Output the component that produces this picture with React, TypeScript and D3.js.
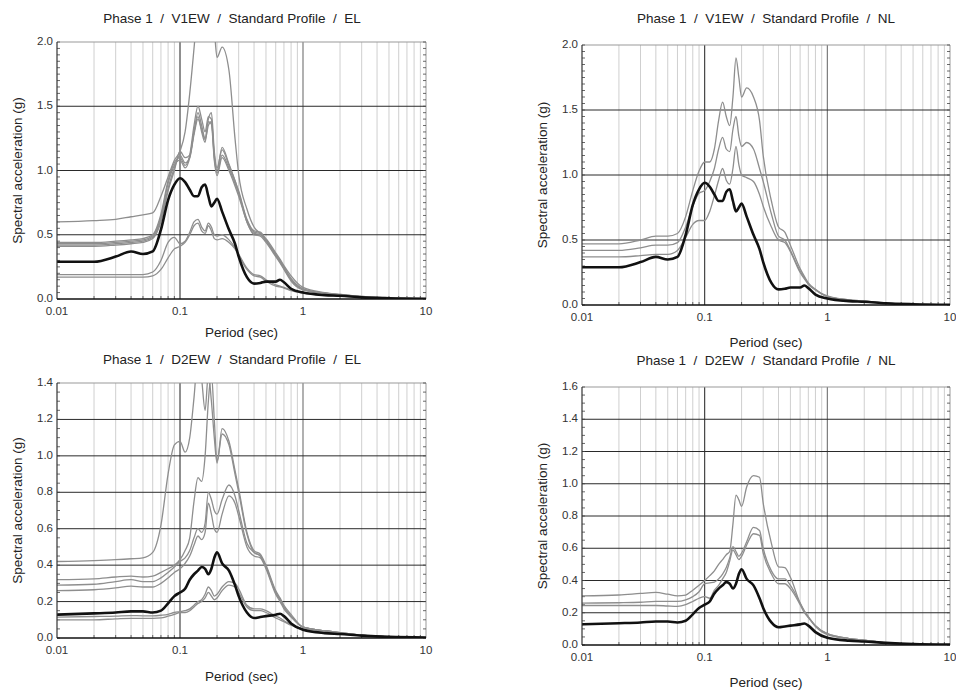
import React from 'react';
import * as d3 from 'd3';

// Periods (sec) at which the spectra are read
const PERIODS = [
  0.01, 0.02, 0.03, 0.04, 0.05, 0.06, 0.07, 0.08, 0.09,
  0.1, 0.11, 0.12, 0.13, 0.14, 0.15, 0.16, 0.17, 0.18, 0.19, 0.2,
  0.22, 0.25, 0.28, 0.3, 0.35, 0.4, 0.45, 0.5,
  0.6, 0.65, 0.7, 0.8, 1, 1.5, 2, 3, 5, 10,
];

// Recorded motions (black)
const V1EW_RECORD = [
  0.29, 0.29, 0.33, 0.37, 0.35, 0.37, 0.54, 0.77, 0.89,
  0.94, 0.91, 0.85, 0.80, 0.80, 0.87, 0.89, 0.80, 0.72, 0.75, 0.78,
  0.68, 0.54, 0.43, 0.33, 0.17, 0.12, 0.125, 0.135,
  0.135, 0.15, 0.13, 0.08, 0.05, 0.03, 0.025, 0.013, 0.006, 0.002,
];
const D2EW_RECORD = [
  0.128, 0.135, 0.14, 0.146, 0.146, 0.14, 0.15, 0.19, 0.23,
  0.25, 0.27, 0.32, 0.35, 0.37, 0.39, 0.38, 0.35, 0.38, 0.44, 0.47,
  0.41, 0.37, 0.29, 0.23, 0.14, 0.11, 0.115, 0.12,
  0.128, 0.133, 0.12, 0.08, 0.045, 0.027, 0.022, 0.013, 0.006, 0.003,
];

// V1EW / EL computed spectra (grey)
const V1EW_EL_1 = [
  0.60, 0.61, 0.62, 0.64, 0.655, 0.67, 0.80, 0.95, 1.08,
  1.15, 1.30, 1.60, 1.95, 2.30, 2.50, 2.50, 2.40, 2.30, 2.10, 1.88,
  1.96, 1.78, 1.25, 0.97, 0.70, 0.56, 0.51, 0.47,
  0.36, 0.31, 0.26, 0.18, 0.09, 0.05, 0.035, 0.02, 0.008, 0.003,
];
const V1EW_EL_2 = [
  0.44, 0.44, 0.45, 0.46, 0.47, 0.50, 0.66, 0.92, 1.06,
  1.10, 1.04, 1.12, 1.35, 1.50, 1.40, 1.30, 1.42, 1.40, 1.12, 1.00,
  1.18, 1.05, 0.92, 0.84, 0.62, 0.53, 0.52, 0.46,
  0.35, 0.30, 0.25, 0.16, 0.08, 0.045, 0.035, 0.02, 0.008, 0.003,
];
const V1EW_EL_3 = [
  0.43, 0.43, 0.44, 0.45, 0.46, 0.49, 0.64, 0.90, 1.04,
  1.08, 1.02, 1.10, 1.30, 1.45, 1.35, 1.25, 1.40, 1.45, 1.15, 1.02,
  1.16, 1.04, 0.92, 0.83, 0.61, 0.52, 0.51, 0.46,
  0.34, 0.29, 0.24, 0.15, 0.075, 0.045, 0.033, 0.019, 0.008, 0.003,
];
const V1EW_EL_4 = [
  0.42, 0.42, 0.43, 0.44, 0.45, 0.48, 0.62, 0.86, 1.02,
  1.12, 1.06, 1.10, 1.28, 1.40, 1.32, 1.24, 1.35, 1.38, 1.10, 0.98,
  1.12, 1.02, 0.90, 0.82, 0.60, 0.51, 0.50, 0.45,
  0.34, 0.29, 0.24, 0.15, 0.075, 0.044, 0.032, 0.018, 0.007, 0.003,
];
const V1EW_EL_5 = [
  0.41, 0.41, 0.42, 0.43, 0.44, 0.47, 0.60, 0.84, 1.00,
  1.15, 1.10, 1.12, 1.30, 1.42, 1.30, 1.22, 1.38, 1.36, 1.08, 0.96,
  1.10, 1.00, 0.88, 0.80, 0.60, 0.50, 0.49, 0.44,
  0.33, 0.28, 0.23, 0.14, 0.07, 0.043, 0.031, 0.018, 0.007, 0.003,
];
const V1EW_EL_6 = [
  0.19, 0.19, 0.19, 0.19, 0.19, 0.21, 0.30, 0.44, 0.48,
  0.43, 0.45, 0.52, 0.60, 0.62, 0.56, 0.53, 0.59, 0.56, 0.50, 0.49,
  0.50, 0.46, 0.40, 0.35, 0.24, 0.19, 0.18, 0.15,
  0.11, 0.10, 0.09, 0.07, 0.05, 0.03, 0.025, 0.015, 0.006, 0.002,
];
const V1EW_EL_7 = [
  0.17, 0.17, 0.17, 0.17, 0.17, 0.18, 0.23, 0.32, 0.39,
  0.41, 0.44, 0.50, 0.57, 0.59, 0.53, 0.51, 0.57, 0.53, 0.47, 0.46,
  0.47, 0.44, 0.39, 0.34, 0.23, 0.18, 0.17, 0.14,
  0.10, 0.095, 0.085, 0.065, 0.045, 0.028, 0.022, 0.013, 0.005, 0.002,
];

// V1EW / NL computed spectra (grey)
const V1EW_NL_1 = [
  0.47, 0.47, 0.50, 0.53, 0.53, 0.55, 0.68, 0.88, 1.03,
  1.10, 1.10, 1.20, 1.42, 1.56, 1.45, 1.38, 1.60, 1.90, 1.75, 1.60,
  1.67, 1.60, 1.42, 1.15, 0.80, 0.60, 0.56, 0.46,
  0.28, 0.22, 0.17, 0.12, 0.07, 0.04, 0.03, 0.015, 0.006, 0.002,
];
const V1EW_NL_2 = [
  0.42, 0.42, 0.44, 0.46, 0.46, 0.48, 0.60, 0.76, 0.86,
  0.88, 0.95, 1.05, 1.20, 1.29, 1.20, 1.18, 1.35, 1.45, 1.30, 1.22,
  1.25, 1.20, 1.05, 0.95, 0.70, 0.53, 0.50, 0.42,
  0.26, 0.21, 0.16, 0.12, 0.065, 0.04, 0.03, 0.015, 0.006, 0.002,
];
const V1EW_NL_3 = [
  0.37, 0.37, 0.38, 0.39, 0.39, 0.42, 0.52, 0.62, 0.65,
  0.65, 0.72, 0.84, 0.96, 1.05, 0.96, 0.93, 1.05, 1.22, 1.08, 1.00,
  0.98, 0.95, 0.85, 0.76, 0.60, 0.50, 0.48, 0.41,
  0.25, 0.20, 0.16, 0.115, 0.065, 0.04, 0.03, 0.015, 0.006, 0.002,
];

// D2EW / EL computed spectra (grey)
const D2EW_EL_1 = [
  0.42, 0.425, 0.43, 0.435, 0.44, 0.47, 0.62, 0.90, 1.06,
  1.08, 1.02, 1.10, 1.32, 1.55, 1.42, 1.25, 1.45, 1.30, 1.10, 0.96,
  1.15, 1.08, 0.92, 0.82, 0.58, 0.48, 0.46, 0.40,
  0.26, 0.22, 0.18, 0.13, 0.06, 0.04, 0.03, 0.015, 0.006, 0.002,
];
const D2EW_EL_2 = [
  0.32, 0.325, 0.335, 0.34, 0.335, 0.34, 0.36, 0.38, 0.40,
  0.43, 0.48, 0.55, 0.75, 0.88, 0.86, 1.00, 1.30, 1.45, 1.20, 0.97,
  1.12, 1.06, 0.90, 0.80, 0.57, 0.47, 0.45, 0.39,
  0.25, 0.21, 0.17, 0.12, 0.06, 0.04, 0.03, 0.015, 0.006, 0.002,
];
const D2EW_EL_3 = [
  0.29, 0.295, 0.31, 0.32, 0.31, 0.31, 0.33, 0.36, 0.39,
  0.42, 0.44, 0.48, 0.55, 0.60, 0.58, 0.63, 0.80, 0.76, 0.70, 0.68,
  0.76, 0.84, 0.78, 0.70, 0.52, 0.47, 0.45, 0.39,
  0.25, 0.21, 0.17, 0.12, 0.06, 0.04, 0.03, 0.015, 0.006, 0.002,
];
const D2EW_EL_4 = [
  0.26, 0.265, 0.275, 0.285, 0.28, 0.28, 0.30, 0.33, 0.36,
  0.38, 0.41, 0.45, 0.51, 0.56, 0.54, 0.58, 0.74, 0.68, 0.60, 0.58,
  0.68, 0.78, 0.74, 0.67, 0.50, 0.45, 0.44, 0.38,
  0.24, 0.20, 0.16, 0.115, 0.06, 0.04, 0.03, 0.015, 0.006, 0.002,
];
const D2EW_EL_5 = [
  0.115, 0.118, 0.12, 0.123, 0.122, 0.122, 0.125, 0.13, 0.14,
  0.145, 0.15, 0.16, 0.18, 0.20, 0.21, 0.24, 0.28, 0.26, 0.23, 0.24,
  0.28, 0.31, 0.30, 0.27, 0.18, 0.16, 0.16, 0.15,
  0.12, 0.11, 0.095, 0.075, 0.05, 0.03, 0.025, 0.014, 0.006, 0.002,
];
const D2EW_EL_6 = [
  0.10, 0.10, 0.105, 0.108, 0.108, 0.108, 0.11, 0.12, 0.13,
  0.14, 0.14, 0.15, 0.17, 0.19, 0.20, 0.22, 0.25, 0.23, 0.21, 0.22,
  0.26, 0.29, 0.28, 0.25, 0.17, 0.15, 0.15, 0.14,
  0.11, 0.10, 0.09, 0.07, 0.045, 0.028, 0.022, 0.013, 0.005, 0.002,
];

// D2EW / NL computed spectra (grey)
const D2EW_NL_1 = [
  0.305, 0.31, 0.32, 0.326, 0.315, 0.305, 0.31, 0.34, 0.37,
  0.40, 0.43, 0.46, 0.50, 0.53, 0.56, 0.58, 0.75, 0.93, 0.90, 0.86,
  0.98, 1.05, 1.04, 0.88, 0.63, 0.485, 0.48, 0.42,
  0.26, 0.21, 0.175, 0.12, 0.07, 0.04, 0.03, 0.015, 0.006, 0.002,
];
const D2EW_NL_2 = [
  0.26, 0.262, 0.265, 0.27, 0.27, 0.27, 0.28, 0.30, 0.33,
  0.38, 0.385, 0.39, 0.41, 0.44, 0.48, 0.54, 0.61, 0.58, 0.55, 0.57,
  0.64, 0.73, 0.71, 0.60, 0.46, 0.41, 0.41, 0.37,
  0.26, 0.21, 0.175, 0.12, 0.07, 0.04, 0.03, 0.015, 0.006, 0.002,
];
const D2EW_NL_3 = [
  0.245, 0.245, 0.245, 0.245, 0.242, 0.24, 0.25, 0.27, 0.29,
  0.30, 0.29, 0.34, 0.37, 0.41, 0.45, 0.52, 0.59, 0.56, 0.53, 0.55,
  0.62, 0.69, 0.68, 0.57, 0.44, 0.38, 0.38, 0.35,
  0.25, 0.20, 0.17, 0.115, 0.065, 0.04, 0.03, 0.015, 0.006, 0.002,
];

const X_TICKS = [0.01, 0.1, 1, 10];
const X_TICK_LABELS = ['0.01', '0.1', '1', '10'];
const Y_TICKS_2 = [0, 0.5, 1.0, 1.5, 2.0];
const Y_TICKS_14 = [0, 0.2, 0.4, 0.6, 0.8, 1.0, 1.2, 1.4];
const Y_TICKS_16 = [0, 0.2, 0.4, 0.6, 0.8, 1.0, 1.2, 1.4, 1.6];

const TITLES = [
  'Phase 1  /  V1EW  /  Standard Profile  /  EL',
  'Phase 1  /  V1EW  /  Standard Profile  /  NL',
  'Phase 1  /  D2EW  /  Standard Profile  /  EL',
  'Phase 1  /  D2EW  /  Standard Profile  /  NL',
];
const X_LABEL = 'Period (sec)';
const Y_LABEL = 'Spectral acceleration (g)';

const FONT = '"Liberation Sans", Arial, Helvetica, sans-serif';

type PanelCfg = {
  id: string;
  left: number; right: number; top: number; bottom: number;
  yMax: number; yTicks: number[]; yMinor: number;
  title: string; titleX: number; titleY: number;
  xLabelY: number; yLabelX: number;
  grey: number[][]; record: number[];
};

const PANELS: PanelCfg[] = [
  {
    id: 'p1', left: 57, right: 426, top: 42, bottom: 299,
    yMax: 2.0, yTicks: Y_TICKS_2, yMinor: 0.05,
    title: TITLES[0], titleX: 232, titleY: 19, xLabelY: 333, yLabelX: 18,
    grey: [V1EW_EL_1, V1EW_EL_2, V1EW_EL_3, V1EW_EL_4, V1EW_EL_5, V1EW_EL_6, V1EW_EL_7],
    record: V1EW_RECORD,
  },
  {
    id: 'p2', left: 582, right: 950, top: 45, bottom: 305,
    yMax: 2.0, yTicks: Y_TICKS_2, yMinor: 0.05,
    title: TITLES[1], titleX: 766, titleY: 19, xLabelY: 343, yLabelX: 543,
    grey: [V1EW_NL_1, V1EW_NL_2, V1EW_NL_3],
    record: V1EW_RECORD,
  },
  {
    id: 'p3', left: 57, right: 426, top: 383, bottom: 638,
    yMax: 1.4, yTicks: Y_TICKS_14, yMinor: 0.05,
    title: TITLES[2], titleX: 232, titleY: 360, xLabelY: 677, yLabelX: 18,
    grey: [D2EW_EL_1, D2EW_EL_2, D2EW_EL_3, D2EW_EL_4, D2EW_EL_5, D2EW_EL_6],
    record: D2EW_RECORD,
  },
  {
    id: 'p4', left: 582, right: 950, top: 387, bottom: 645,
    yMax: 1.6, yTicks: Y_TICKS_16, yMinor: 0.05,
    title: TITLES[3], titleX: 766, titleY: 361, xLabelY: 683, yLabelX: 543,
    grey: [D2EW_NL_1, D2EW_NL_2, D2EW_NL_3],
    record: D2EW_RECORD,
  },
];

function Panel({ cfg }: { cfg: PanelCfg }) {
  const x = d3.scaleLog().domain([0.01, 10]).range([cfg.left, cfg.right]);
  const y = d3.scaleLinear().domain([0, cfg.yMax]).range([cfg.bottom, cfg.top]);
  const line = d3
    .line<number>()
    .x((_, i) => x(PERIODS[i]))
    .y((v) => y(v))
    .curve(d3.curveMonotoneX);

  const minorX: number[] = [];
  [0.01, 0.1, 1].forEach((dec) => {
    for (let m = 2; m <= 9; m++) minorX.push(dec * m);
  });
  const minorY = d3.range(0, cfg.yMax + 1e-9, cfg.yMinor);
  const midY = (cfg.top + cfg.bottom) / 2;
  const midX = (cfg.left + cfg.right) / 2;

  return (
    <g>
      <defs>
        <clipPath id={`clip-${cfg.id}`}>
          <rect x={cfg.left} y={cfg.top} width={cfg.right - cfg.left} height={cfg.bottom - cfg.top} />
        </clipPath>
      </defs>
      <text x={cfg.titleX} y={cfg.titleY} textAnchor="middle" dominantBaseline="middle"
        fontSize={13.5} fill="#222" style={{ whiteSpace: 'pre' }}>{cfg.title}</text>
      {/* minor vertical grid */}
      {minorX.map((p) => (
        <line key={`mx${p}`} x1={x(p)} x2={x(p)} y1={cfg.top} y2={cfg.bottom} stroke="#cfcfcf" strokeWidth={1} />
      ))}
      {/* decade lines */}
      <line x1={x(0.1)} x2={x(0.1)} y1={cfg.top} y2={cfg.bottom} stroke="#333" strokeWidth={1.1} />
      <line x1={x(1)} x2={x(1)} y1={cfg.top} y2={cfg.bottom} stroke="#707070" strokeWidth={1.1} />
      {/* horizontal major grid */}
      {cfg.yTicks.filter((t) => t > 0 && t < cfg.yMax - 1e-9).map((t) => (
        <line key={`hy${t}`} x1={cfg.left} x2={cfg.right} y1={y(t)} y2={y(t)} stroke="#2a2a2a" strokeWidth={1} />
      ))}
      {/* frame */}
      <line x1={cfg.left} x2={cfg.right} y1={cfg.top} y2={cfg.top} stroke="#999" strokeWidth={1} />
      <line x1={cfg.right} x2={cfg.right} y1={cfg.top} y2={cfg.bottom} stroke="#999" strokeWidth={1} />
      {/* minor y ticks left & right */}
      {minorY.map((t) => (
        <g key={`my${t}`}>
          <line x1={cfg.left} x2={cfg.left + 3} y1={y(t)} y2={y(t)} stroke="#444" strokeWidth={0.8} />
          <line x1={cfg.right} x2={cfg.right - 3} y1={y(t)} y2={y(t)} stroke="#444" strokeWidth={0.8} />
        </g>
      ))}
      {/* minor x ticks on bottom */}
      {minorX.map((p) => (
        <line key={`bx${p}`} x1={x(p)} x2={x(p)} y1={cfg.bottom} y2={cfg.bottom - 3} stroke="#444" strokeWidth={0.8} />
      ))}
      {/* curves */}
      <g clipPath={`url(#clip-${cfg.id})`}>
        {cfg.grey.map((s, i) => (
          <path key={`g${i}`} d={line(s) || ''} fill="none" stroke="#8e8e8e" strokeWidth={1.3} />
        ))}
        <path d={line(cfg.record) || ''} fill="none" stroke="#111" strokeWidth={2.6} strokeLinejoin="round" />
      </g>
      {/* axes */}
      <line x1={cfg.left} x2={cfg.left} y1={cfg.top} y2={cfg.bottom} stroke="#333" strokeWidth={1.2} />
      <line x1={cfg.left} x2={cfg.right} y1={cfg.bottom} y2={cfg.bottom} stroke="#111" strokeWidth={1.4} />
      {/* tick labels */}
      {cfg.yTicks.map((t) => (
        <text key={`yl${t}`} x={cfg.left - 4} y={y(t)} textAnchor="end" dominantBaseline="middle"
          fontSize={11.5} fill="#333">{t.toFixed(1)}</text>
      ))}
      {X_TICKS.map((t, i) => (
        <text key={`xl${t}`} x={x(t)} y={cfg.bottom + 13} textAnchor="middle" dominantBaseline="middle"
          fontSize={11.5} fill="#333">{X_TICK_LABELS[i]}</text>
      ))}
      <text x={midX} y={cfg.xLabelY} textAnchor="middle" dominantBaseline="middle" fontSize={13.5} fill="#222">{X_LABEL}</text>
      <text transform={`translate(${cfg.yLabelX},${midY}) rotate(-90)`} textAnchor="middle" dominantBaseline="middle"
        fontSize={13.5} fill="#222">{Y_LABEL}</text>
    </g>
  );
}

export default function App() {
  return (
    <svg width={956} height={694} style={{ position: 'absolute', left: 0, top: 0, background: '#fff' }}
      fontFamily={FONT}>
      <rect x={0} y={0} width={956} height={694} fill="#fff" />
      {PANELS.map((p) => (
        <Panel key={p.id} cfg={p} />
      ))}
    </svg>
  );
}
